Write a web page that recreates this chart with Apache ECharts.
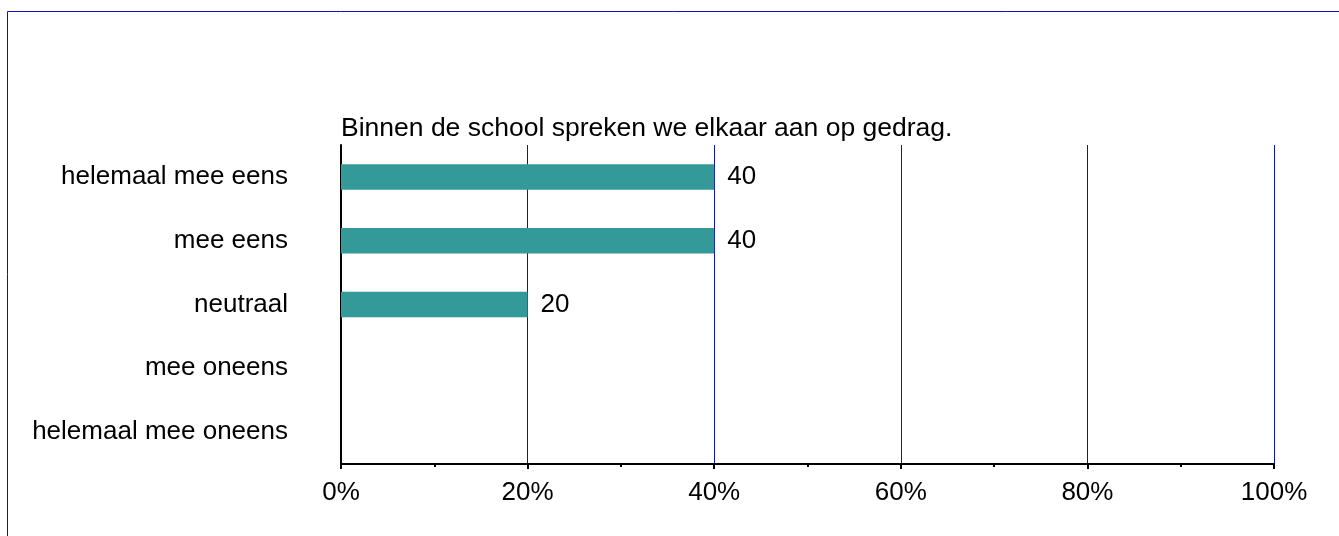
<!DOCTYPE html>
<html>
<head>
<meta charset="utf-8">
<script src="https://cdn.jsdelivr.net/npm/echarts@6/dist/echarts.min.js"></script>
<style>
  html, body { margin: 0; padding: 0; background: #fff; }
  #chart { width: 1339px; height: 536px; }
</style>
</head>
<body>
<div id="chart"></div>
<script>
// antwoordcategorieën, van boven naar beneden
const categories = ['helemaal mee eens', 'mee eens', 'neutraal', 'mee oneens', 'helemaal mee oneens'];
// percentages per categorie
const percentages = [40, 40, 20, 0, 0];
const titleText = 'Binnen de school spreken we elkaar aan op gedrag.';

const chart = echarts.init(document.getElementById('chart'));

const option = {
  backgroundColor: '#fff',
  animation: false,
  textStyle: { fontFamily: 'Liberation Sans, Arial, sans-serif' },
  graphic: [
    {
      // kader rond de grafiek
      type: 'rect',
      shape: { x: 7.5, y: 11.5, width: 1400, height: 600 },
      style: { fill: 'none', stroke: '#1010b8', lineWidth: 1 }
    }
  ],
  title: {
    text: titleText,
    left: 336,
    top: 115,
    padding: [0, 5],
    textStyle: { fontSize: 26.5, fontWeight: 'normal', color: '#000' }
  },
  grid: { left: 341, right: 65, top: 145, bottom: 72, containLabel: false },
  xAxis: {
    type: 'value',
    min: 0,
    max: 100,
    interval: 20,
    axisLine: { show: true, lineStyle: { color: '#000', width: 2 } },
    axisTick: { show: true, length: 5, lineStyle: { color: '#000', width: 2 } },
    minorTick: { show: true, splitNumber: 2, length: 3, lineStyle: { color: '#000', width: 2 } },
    axisLabel: { formatter: '{value}%', fontSize: 26, color: '#000', margin: 16 },
    splitLine: { show: true, lineStyle: { color: '#1010b8', width: 1 } }
  },
  yAxis: {
    type: 'category',
    data: categories,
    inverse: true,
    axisLine: { show: true, lineStyle: { color: '#000', width: 2 } },
    axisTick: { show: false },
    axisLabel: { fontSize: 26, color: '#000', margin: 53 },
    splitLine: { show: false }
  },
  series: [
    {
      type: 'bar',
      data: percentages,
      barWidth: '40%',
      itemStyle: { color: '#339999' },
      label: {
        show: true,
        position: 'right',
        distance: 13,
        fontSize: 26,
        color: '#000',
        formatter: p => (p.value ? String(p.value) : '')
      }
    }
  ]
};

chart.setOption(option);
</script>
</body>
</html>
